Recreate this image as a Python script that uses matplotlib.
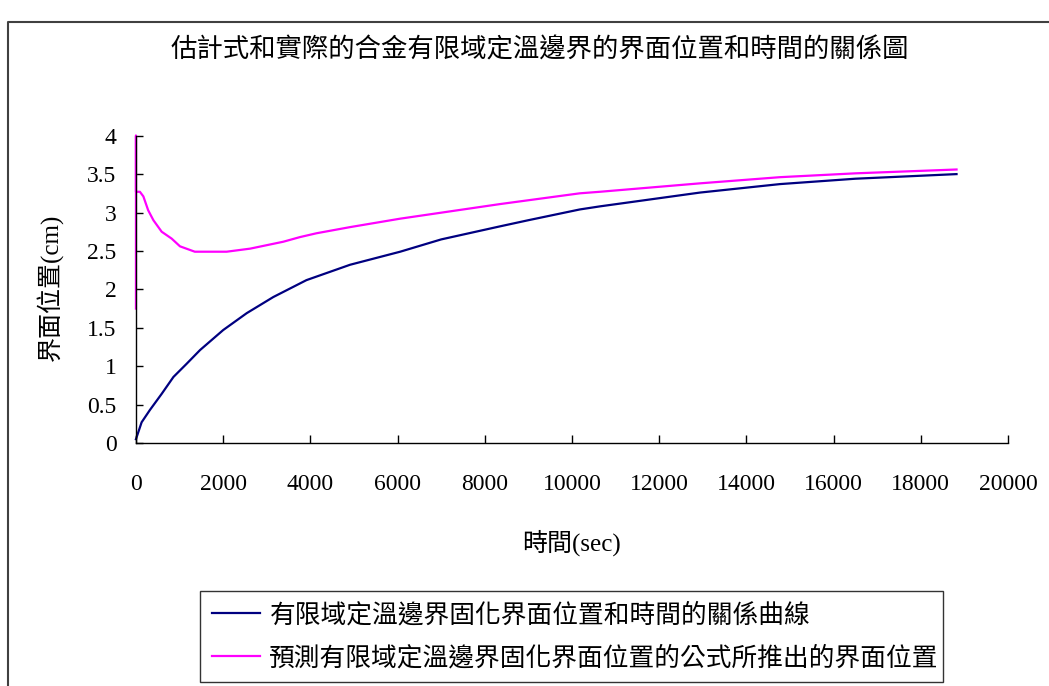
import matplotlib
matplotlib.use("Agg")
import matplotlib.pyplot as plt
from matplotlib.lines import Line2D

# 字型: 數字用襯線體, 中文退回 Noto CJK
FONTS = ['Liberation Serif', 'Noto Sans CJK TC']
plt.rcParams['font.family'] = FONTS

# 有限域定溫邊界固化界面位置 (實際)
t_actual = [0, 130, 320, 590, 860, 1160, 1470, 2000, 2540, 3150, 3910, 4910,
            6060, 7000, 8350, 9000, 10180, 10640, 12940, 14770, 16500, 18820]
pos_actual = [0.05, 0.27, 0.43, 0.64, 0.86, 1.03, 1.21, 1.47, 1.69, 1.90, 2.12, 2.32,
              2.49, 2.65, 2.82, 2.90, 3.04, 3.08, 3.26, 3.37, 3.44, 3.50]

# 公式推出的界面位置 (預測)
t_pred = [0, 0, 0, 90, 170, 280, 400, 590, 820, 1010, 1350, 2080, 2620, 3380,
          3760, 4140, 4910, 6060, 8350, 10180, 10640, 12940, 14770, 16500, 18820]
pos_pred = [1.75, 4.0, 3.27, 3.27, 3.21, 3.03, 2.90, 2.75, 2.66, 2.56, 2.49, 2.49, 2.53, 2.62,
            2.68, 2.73, 2.81, 2.92, 3.11, 3.25, 3.27, 3.38, 3.46, 3.51, 3.56]

x_ticks = list(range(0, 20001, 2000))
y_ticks = [0, 0.5, 1, 1.5, 2, 2.5, 3, 3.5, 4]
y_tick_labels = ['0', '0.5', '1', '1.5', '2', '2.5', '3', '3.5', '4']

title = '估計式和實際的合金有限域定溫邊界的界面位置和時間的關係圖'
label_actual = '有限域定溫邊界固化界面位置和時間的關係曲線'
label_pred = '預測有限域定溫邊界固化界面位置的公式所推出的界面位置'

fig = plt.figure(figsize=(10.49, 6.86), dpi=100)
ax = fig.add_axes([0.1296, 0.3542, 0.8313, 0.448])

ax.plot(t_actual, pos_actual, color='#000080', lw=1.6, clip_on=False, label=label_actual)
ax.plot(t_pred, pos_pred, color='#FF00FF', lw=1.6, clip_on=False, label=label_pred)

ax.set_xlim(0, 20000)
ax.set_ylim(0, 4)
ax.set_xticks(x_ticks)
ax.set_xticklabels([str(v) for v in x_ticks])
ax.set_yticks(y_ticks)
ax.set_yticklabels(y_tick_labels)

for s in ['top', 'right']:
    ax.spines[s].set_visible(False)
for s in ['left', 'bottom']:
    ax.spines[s].set_linewidth(1.0)
    ax.spines[s].set_color('black')

ax.tick_params(axis='x', direction='in', length=6, width=1.0, labelsize=17, pad=22)
ax.tick_params(axis='y', direction='in', length=5, width=1.0, labelsize=17, pad=14)

ax.set_xlabel('時間(sec)', fontsize=18)
ax.xaxis.set_label_coords(0.5, -0.325)
ax.xaxis.label.set_va('center')
ax.set_ylabel('界面位置(cm)', fontsize=18)
ax.yaxis.set_label_coords(-0.099, 0.508)
ax.yaxis.label.set_va('center')

fig.text(0.515, 0.927, title, fontsize=19, ha='center', va='center')

leg = fig.legend(loc='lower left', bbox_to_anchor=(0.1907, 0.0058, 0.708, 0.1327),
                 mode='expand', fontsize=18.5, frameon=True, fancybox=False,
                 handlelength=1.9, handletextpad=0.35, borderpad=0.45,
                 labelspacing=0.72, borderaxespad=0)
leg.get_frame().set_edgecolor('black')
leg.get_frame().set_linewidth(1.0)

# 外框 (文件中的圖框)
fig.add_artist(Line2D([8 / 1049, 8 / 1049, 1.0], [0.0, 1 - 22 / 686, 1 - 22 / 686],
                      transform=fig.transFigure, color='#404040', lw=1.5))

fig.savefig('out.png', dpi=100)
